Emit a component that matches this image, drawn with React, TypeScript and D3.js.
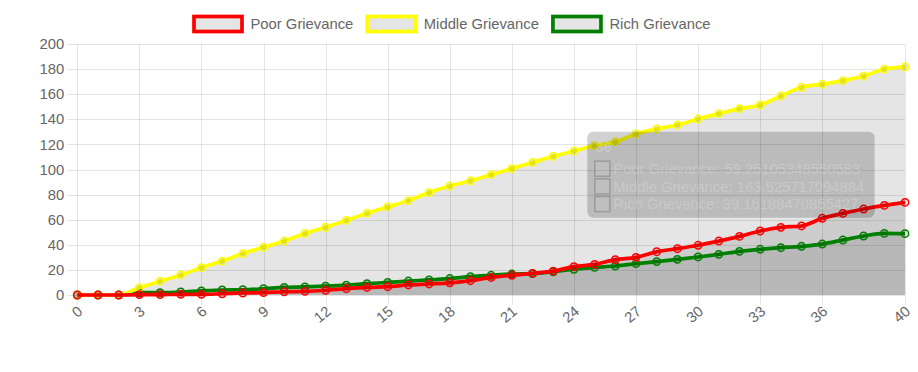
import React, { useMemo } from "react";
import * as d3 from "d3";

// values, one per x step 0..40
const steps = d3.range(0, 41);
const poor = [
  0, 0, 0, 0.3, 0.3, 0.5, 0.5, 1, 1.6, 1.9, 2.6, 2.9, 3.8, 5, 6, 6.6, 8, 8.8, 9.7, 11.4,
  14, 15.7, 17.2, 19, 22.6, 24.4, 28.2, 30, 34.5, 36.9, 39.6, 43, 46.7, 51, 53.9, 55,
  61.1, 65, 68.5, 71.4, 73.8,
];
const middle = [
  0, 0, 0, 5.8, 11, 16, 21.8, 27, 33, 38, 43, 49, 54, 59.5, 65.2, 70.2, 75.2, 81.6, 86.8,
  91, 95.9, 100.7, 105.6, 110.5, 114.7, 119, 122, 128.3, 132.3, 135.5, 140.2, 144.5,
  148.5, 151.4, 158.6, 165.5, 167.9, 170.8, 174.5, 180, 181.7,
];
const rich = [
  0, 0, 0, 1.8, 1.9, 2.4, 3.3, 4, 4.2, 5, 6, 6.4, 7, 7.8, 9, 10, 11.1, 12, 13.1, 14.6,
  15.7, 16.7, 17, 18.5, 20.5, 22, 23.1, 25, 26.6, 28.4, 30.3, 32.4, 34.8, 36.4, 37.7,
  38.8, 40.6, 43.8, 47, 49.1, 48.9,
];

const seriesNames = ["Poor Grievance", "Middle Grievance", "Rich Grievance"];
const seriesColors = ["#ff0000", "#ffff00", "#008000"];
const xTicks = [0, 3, 6, 9, 12, 15, 18, 21, 24, 27, 30, 33, 36, 40];
const yTicks = [0, 20, 40, 60, 80, 100, 120, 140, 160, 180, 200];

// tooltip frozen in the screenshot
const tooltipTitle = "36";
const tooltipValues = ["59.25105348550583", "163.525717094884", "39.16188470855427"];

const FONT = "'Liberation Sans', Arial, Helvetica, sans-serif";
const FS = 14.8;
const W = 918;
const H = 372;
const margin = { top: 44, right: 13, bottom: 77, left: 77.3 };

function measure(text: string, font: string) {
  const c = document.createElement("canvas").getContext("2d");
  if (!c) return text.length * FS * 0.55;
  c.font = font;
  return c.measureText(text).width;
}

export default function App() {
  const data = [poor, middle, rich];

  const x = d3.scaleLinear().domain([0, 40]).range([margin.left, W - margin.right]);
  const y = d3.scaleLinear().domain([0, 200]).range([H - margin.bottom, margin.top]);

  const line = d3
    .line<number>()
    .x((_, i) => x(steps[i]))
    .y((d) => y(d))
    .curve(d3.curveMonotoneX);
  const area = d3
    .area<number>()
    .x((_, i) => x(steps[i]))
    .y0(y(0))
    .y1((d) => y(d))
    .curve(d3.curveMonotoneX);

  // legend layout, centred like chart.js does
  const legend = useMemo(() => {
    const boxW = 48;
    let cx = 194;
    return seriesNames.map((name) => {
      const tw = measure(name, `${FS}px ${FONT}`);
      const item = { name, bx: cx, tx: cx + boxW + 8.5, boxW };
      cx = item.tx + tw + 14;
      return item;
    });
  }, []);

  const [x0, x1] = x.range();
  const [yb, yt] = y.range();
  const order = [2, 1, 0]; // chart.js paints the last dataset first

  const tip = { x: 587.3, y: 131.7, w: 287.4, h: 86 };

  return (
    <svg
      width={W}
      height={H}
      style={{ position: "absolute", left: 0, top: 0, fontFamily: FONT }}
    >
      <rect width={W} height={H} fill="#fff" />

      {/* grid */}
      <g stroke="rgba(0,0,0,0.1)" strokeWidth={1}>
        {yTicks.map((t) => (
          <line key={"h" + t} x1={x0 - 10} x2={x1} y1={Math.round(y(t)) + 0.5} y2={Math.round(y(t)) + 0.5} />
        ))}
        {xTicks.map((t) => (
          <line key={"v" + t} x1={Math.round(x(t)) + 0.5} x2={Math.round(x(t)) + 0.5} y1={yt} y2={yb + 10} />
        ))}
      </g>

      {/* y labels */}
      <g fill="#666" fontSize={FS} textAnchor="end">
        {yTicks.map((t) => (
          <text key={t} x={x0 - 13} y={y(t)} dy="0.35em">
            {t}
          </text>
        ))}
      </g>

      {/* x labels, rotated */}
      <g fill="#666" fontSize={FS} textAnchor="end">
        {xTicks.map((t) => (
          <text key={t} transform={`translate(${x(t) + 3},${yb + 14}) rotate(-40)`} dy="0.35em">
            {t}
          </text>
        ))}
      </g>

      {/* fills first */}
      {order.map((s) => (
        <path key={"a" + s} d={area(data[s]) || ""} fill="rgba(0,0,0,0.1)" />
      ))}

      {/* lines and points */}
      {order.map((s) => (
        <g key={"l" + s}>
          <path
            d={line(data[s]) || ""}
            fill="none"
            stroke={seriesColors[s]}
            strokeWidth={3.7}
            strokeLinejoin="round"
          />
          {data[s].map((v, i) => (
            <circle
              key={i}
              cx={x(steps[i])}
              cy={y(v)}
              r={3.7}
              fill="rgba(0,0,0,0.1)"
              stroke={seriesColors[s]}
              strokeWidth={1.5}
            />
          ))}
        </g>
      ))}

      {/* legend */}
      {legend.map((it, i) => (
        <g key={it.name}>
          <rect
            x={it.bx}
            y={16.5}
            width={it.boxW}
            height={15}
            fill="rgba(0,0,0,0.1)"
            stroke={seriesColors[i]}
            strokeWidth={3.7}
          />
          <text x={it.tx} y={24} dy="0.35em" fontSize={FS} fill="#666">
            {it.name}
          </text>
        </g>
      ))}

      {/* faded tooltip */}
      <g>
        <rect x={tip.x} y={tip.y} width={tip.w} height={tip.h} rx={6} fill="rgba(0,0,0,0.18)" />
        <text
          x={tip.x + 8}
          y={tip.y + 15}
          dy="0.35em"
          fontSize={FS}
          fontWeight="bold"
          fill="rgba(255,255,255,0.22)"
        >
          {tooltipTitle}
        </text>
        {seriesNames.map((name, i) => {
          const ly = tip.y + 29.5 + i * 17.7;
          return (
            <g key={name}>
              <rect
                x={tip.x + 7.5}
                y={ly}
                width={15}
                height={15}
                fill="rgba(255,255,255,0.06)"
                stroke="rgba(0,0,0,0.18)"
                strokeWidth={1.5}
              />
              <text x={tip.x + 26} y={ly + 7.5} dy="0.35em" fontSize={FS} fill="rgba(255,255,255,0.22)">
                {name}: {tooltipValues[i]}
              </text>
            </g>
          );
        })}
      </g>
    </svg>
  );
}
